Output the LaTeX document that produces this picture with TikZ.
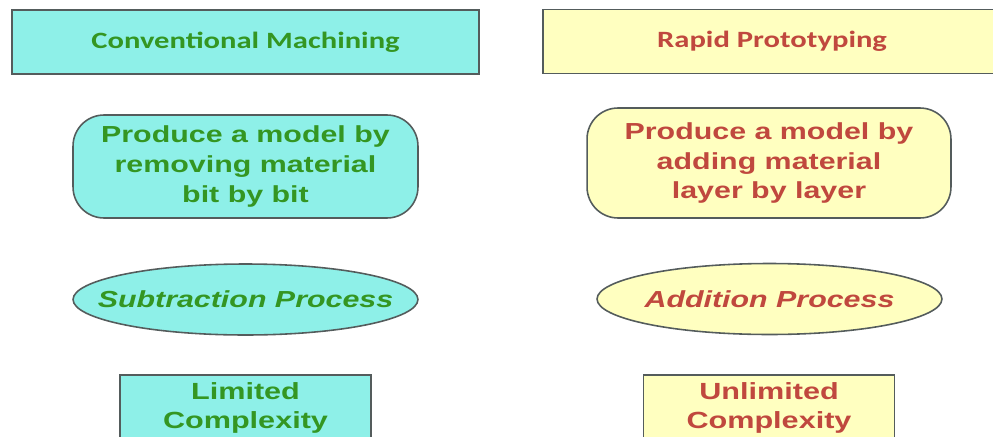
\documentclass[tikz,border=0pt]{standalone}
\usepackage{fontspec}
\setmainfont[FakeStretch=1.31]{Liberation Sans}
\newfontfamily\titlefont[FakeStretch=1.31]{Carlito}
\usepackage{tikz}
\usetikzlibrary{positioning,shapes.geometric}

\definecolor{cmfill}{RGB}{142,240,232}
\definecolor{rpfill}{RGB}{255,255,192}
\definecolor{cmtext}{RGB}{52,150,34}
\definecolor{rptext}{RGB}{192,72,62}
\definecolor{edge}{RGB}{84,92,92}

\newcommand{\proclabel}[1]{\makebox[4.6cm][c]{#1}}

\tikzset{
  box/.style={draw=edge, line width=0.9pt, align=center, inner sep=0mm},
  titlebox/.style={box, rectangle, minimum width=9.34cm, minimum height=1.28cm,
      font=\titlefont\fontsize{13.3}{15}\selectfont\bfseries},
  roundbox/.style={box, rounded corners=0.62cm,
      font=\fontsize{13.2}{16.8}\selectfont\bfseries},
  procbox/.style={box, ellipse, minimum width=6.9cm, minimum height=1.42cm,
      font=\fontsize{13.2}{16.8}\selectfont\bfseries\itshape},
  limbox/.style={box, rectangle, minimum width=5.02cm, minimum height=1.32cm,
      font=\fontsize{13.3}{16.6}\selectfont\bfseries}
}

\begin{document}
\begin{tikzpicture}[x=0.02cm,y=-0.02cm]
    \useasboundingbox (0,0) rectangle (993,436);
    \clip (0,0) rectangle (993,436);
    %%%%% CONVENTIONAL MACHINING
    \begin{scope}[every node/.append style={fill=cmfill, text=cmtext}]
      \node[titlebox] (CONV) at (245.5,42) {Conventional Machining};
      \node[roundbox, minimum width=6.9cm, minimum height=2.06cm] (REMOVE) at (245.5,166.5)
        {Produce a model by\\removing material\\bit by bit};
      \node[procbox] (SUB) at (245.5,299.5) {\proclabel{Subtraction Process}};
      \node[limbox] (LIM) at (245.5,408) {Limited\\Complexity};
    \end{scope}
    %%%%% RAPID PROTOTYPING
    \begin{scope}[every node/.append style={fill=rpfill, text=rptext}]
      \node[titlebox, minimum width=9.3cm, anchor=west] (RAPID) at (542,41.5) {};
      \node[titlebox, draw=none, fill=none] (RAPIDLBL) at (772,41.5) {Rapid Prototyping};
      \node[roundbox, minimum width=7.28cm, minimum height=2.2cm] (ADD) at (769,163)
        {Produce a model by\\adding material\\layer by layer};
      \node[procbox] (ADDP) at (769.5,299) {\proclabel{Addition Process}};
      \node[limbox] (UNLIM) at (769,408) {Unlimited\\Complexity};
    \end{scope}
  \end{tikzpicture}
\end{document}
